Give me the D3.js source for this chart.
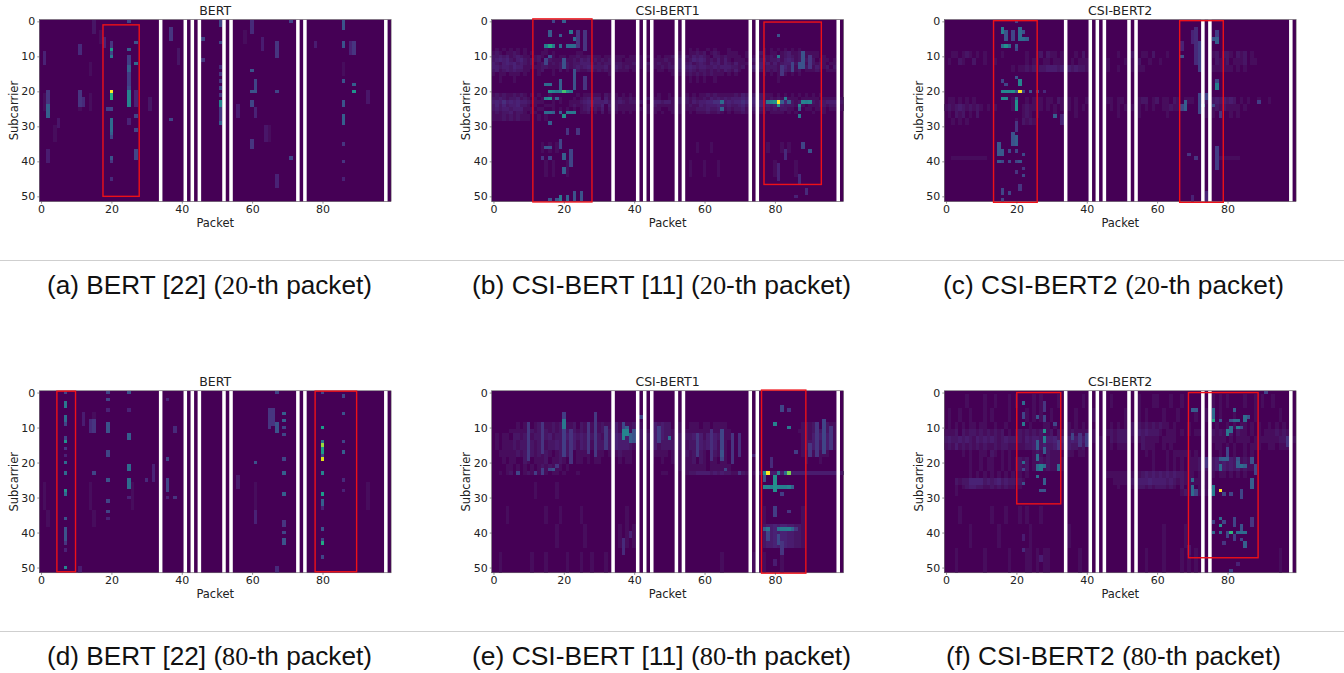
<!DOCTYPE html>
<html><head><meta charset="utf-8"><script src="https://cdn.jsdelivr.net/npm/d3@7"></script>
<style>html,body{margin:0;padding:0;background:#fff}svg{display:block}text{font-family:"DejaVu Sans",sans-serif}</style></head>
<body><svg id="c" width="1344" height="673"></svg>
<script>
// Packets lost in capture (white columns)
const missingPackets=[34,41,43,45,52,54,73,75,98];
const xTicks=[0,20,40,60,80];
const yTicks=[0,10,20,30,40,50];
const titles=["BERT","CSI-BERT1","CSI-BERT2","BERT","CSI-BERT1","CSI-BERT2"];
const captions=[["(a) BERT [22] (","20","-th packet)"],["(b) CSI-BERT [11] (","20","-th packet)"],["(c) CSI-BERT2 (","20","-th packet)"],["(d) BERT [22] (","80","-th packet)"],["(e) CSI-BERT [11] (","80","-th packet)"],["(f) CSI-BERT2 (","80","-th packet)"]];
// red highlight frames: [packet0, packet1, subcarrier0, subcarrier1]
const framesA=[[17.6,27.9,1,50]];
const framesB=[[11.2,28,-0.7,51.6],[76.9,93.2,0.2,46.6]];
const framesC=[[13.5,25.9,-0.2,51.7],[66.4,78.8,-0.2,51.7]];
const framesD=[[4.5,9.8,-0.4,51.2],[77.9,89.7,-0.4,51.2]];
const framesE=[[76.2,88.8,-0.7,51.6]];
const framesF=[[20.1,32.6,0,31.8],[68.9,88.7,0,47.2]];
// Background texture read per packet: [sub0, sub1, one digit per packet (tens of packets grouped)]
const layersA=[[21,25,"0100000000 0100100000 0000000000 0000000000 0000000000 0000000000 0000000000 0000000000 0000000000 0000000000"],
 [3,6,"0000000000 0000000100 0000000000 0000000000 0000000000 0000000010 0000000000 0000000000 0000000000 0000000000"],
 [12,15,"0000000000 0000100000 0000000000 0000000000 0000000000 0000000000 0000000000 0000000000 0000001000 0000000000"],
 [30,34,"0000100000 0000000000 0000000000 0000000000 0000000000 0000000000 0000010000 0000000000 0000000000 0000000000"]];
const layersB=[[8,8,"0101010101 0000010000 0000000000 0000000000 0000000000 0010101010 0101000100 0000010101 0101010100 0000000000"],
 [9,9,"1210112101 0100110100 0000110000 0000000000 0000000000 0011201121 2012100111 0011012101 1012311201 1110000000"],
 [10,10,"2232312321 1012102101 1011211211 1011011101 1010100101 1212121323 2102212111 1012121212 1212321201 1110100010"],
 [11,11,"2343421342 1212012111 1112132312 1212011011 1011011112 1123212434 3121313101 1102232312 2313431212 2201110100"],
 [12,12,"3213434232 1201211212 1212233321 2122022111 2011211211 2143423123 2132313213 1112123231 3123312211 2212101110"],
 [13,13,"3323324331 1111221112 1212323432 2231032121 1011121121 2243334323 3223233322 1202313122 2134221302 1132120210"],
 [14,14,"2312323221 1001200102 0101211221 2121021110 1001110110 1132323212 2121213213 1001212121 2123211201 1121011100"],
 [15,15,"1011011101 0001000100 0000000000 0001000000 0000000000 0111212121 2121110101 0001010101 0101010100 0000000000"],
 [16,17,"0010001000 0000000000 0000000000 0000000000 0000000000 0010101010 1001000000 0000010000 0100000000 0000000000"],
 [21,21,"1212112121 0101001000 0000101111 1021010101 0101010100 1010110101 1212111112 1321212111 0101010101 0101000000"],
 [22,22,"2232122312 1010100101 0001012323 3031212112 1201211100 1112121211 2132323233 3432322112 1212111011 1110111101"],
 [23,23,"3435343433 2111100101 0011123443 3342323212 2123033323 3112121323 3445543434 4544454334 2434321212 1212233322"],
 [24,24,"2424233422 1010011100 0012112332 2403121111 1101132111 1101012113 2333432322 3423334232 3232221110 1112212211"],
 [25,25,"2323323331 1101100101 0101012312 1302121111 1010111100 1111211122 2322321212 2312212121 2122110101 1011101101"],
 [26,26,"1212231221 0110010000 0001011201 0201010101 0100101010 0101101011 1211210101 1212121101 1110101000 0100100000"],
 [27,28,"1112121211 1001010000 0000000000 0000000000 0000000000 0000000000 0000000000 0000000000 0000000000 0000000000"],
 [35,37,"0000000000 0000101010 0000000000 0000000000 0000000000 0000100010 0010000000 0000000010 0010100000 0000000000"],
 [40,44,"0000000000 0000010100 0100000000 0000000000 0000000000 0000001000 1000100000 0000000000 1000001000 0000000000"]];
const layersC=[[9,10,"0011012101 0100001000 0001001202 1101000102 0000000001 0012101102 0001000000 0000001202 2102120100 0000000000"],
 [11,12,"0100210020 0100100000 0001011011 0111001011 1000001000 0101020010 0100000000 0000010211 2011120110 0000000000"],
 [13,14,"0000000000 0000000001 0112121223 3323032322 1000011001 0011011000 0000000000 0000011111 1101010000 0000000000"],
 [22,23,"0110101010 0000000001 0001011101 1021110100 1101011101 1010112201 2011021011 1001212323 2320101001 0010000000"],
 [24,25,"1212321212 1010100001 1012111101 0101010101 0101010101 0101010101 0011211000 0000111212 1111010000 0000000000"],
 [26,27,"0102120102 0000000000 0012101000 0100000100 0001000001 0000010000 0001000000 0000101010 0101000000 0000000000"],
 [28,29,"0010101000 0000000000 1021210000 0000000000 0000000000 0000000000 0000000000 0000000000 0000000000 0000000000"],
 [39,39,"0011111111 1100000000 0000000000 0000000000 0000000000 0000000000 0000000000 0000000011 1111000000 0000000000"]];
const layersD=[[6,9,"0000000000 0010010000 0000000000 0000000000 0000000000 0000000000 0000010000 0000000000 0000000000 0000000000"],
 [26,33,"0100000000 0000100000 0000001000 0000000000 0000000000 0000000000 0100000000 0000000000 0000000000 0001000000"],
 [34,38,"0010000000 0000010000 0000000000 0000000000 0000000000 0000000000 0000000000 0000000000 0000000000 0000000000"]];
const layersE=[[9,10,"0000000101 1012011212 1112021211 1211031211 2011023232 2021101110 1101111000 0000000000 0000000012 1230321100"],
 [11,11,"0000011111 1212121212 1212121212 1212131211 2121123232 2121111111 1111111100 0000000000 0000000112 1232321100"],
 [12,13,"0101102212 2122323122 2313232323 2122343433 2323233232 2122122323 1323221110 0000000000 0000000012 1343432100"],
 [14,16,"0101112122 2212312232 2223132213 2222243332 1213223122 2212212213 2313121010 0000000000 0000000012 2342331100"],
 [17,18,"0011111212 1212121012 1210111101 1101212111 0101011111 0111121212 1012111000 0000000000 0000000011 1121110000"],
 [19,20,"0001011002 1011120112 1010110101 1000101011 0001010010 0101011202 1011011000 0000000000 0000000001 0001000000"],
 [21,22,"0000110101 0101212111 0100000000 0000000000 0000000000 0011111111 1011111100 0000000000 0000000000 0000000000"],
 [23,23,"0010120101 2101210110 1000100000 0000000000 0000000011 0010012233 3323232211 1211113333 3333333333 3333333322"],
 [26,30,"0000000000 0010000010 0000000000 0000000000 0000000000 0000000000 0000000000 0000000000 0000000000 0000000000"],
 [33,37,"0000100000 0000010001 0000010000 0000000010 0000000000 0000000000 0000000000 0000000100 0000000010 0000000000"],
 [38,44,"0000000000 0000000010 0000001000 0000001010 1000000000 0000100000 0000000000 0000000233 4344332210 0000000000"],
 [46,51,"0010000000 0100010000 0100010010 0010000000 0000000000 0000000000 0000010000 0000100100 0010000000 0000000000"]];
const layersF=[[1,4,"0000001000 0100100010 1000010100 0010100001 0000000100 0000010001 1000100100 0000001010 1000010010 1001000000"],
 [5,8,"0100100100 0101000010 0001010100 1000000100 0010010000 0100010100 0010001000 0100100010 0010000010 0000010010"],
 [9,10,"0101010110 1100100100 0000100011 0100010101 0001010101 0102121212 1211010001 0001000100 1010110101 0010101000"],
 [11,12,"1112021221 2121212010 1212121211 2021012111 1011011212 2212132322 2101110101 0111012121 1202110101 0111212100"],
 [13,14,"2322323213 2323212322 2213233243 3424034313 1212120212 2211212111 1011110000 0000001111 0101111011 1111122211"],
 [15,16,"1213121212 1211212211 1112231232 2313032212 0101110101 1110102111 0010100000 0000000110 1010010111 0011011100"],
 [17,18,"0000010100 1102101010 0000012102 1110011011 0000000000 0000000101 0001011111 0101000010 1010010100 0000000000"],
 [19,22,"0000000100 1011001010 1212011212 1111000000 0000000000 0000000001 0001010101 1121212323 2323121100 0000000000"],
 [23,24,"0000000101 0101010101 0101000000 0000000000 0000011111 1111212323 2323232211 1011111011 0101010000 0000000000"],
 [25,26,"0002122444 4232342322 1210000000 0000000000 0000000011 1112233343 3332321211 1111110000 0000000000 0000000000"],
 [27,27,"0001012332 2112121211 0100000000 0000000000 0000000001 0011122121 2221210201 1010110000 0000000000 0000000000"],
 [28,29,"0001000000 0000000000 0000000000 0000000000 0000000000 0000000000 0000000121 2112110000 0000000000 0000000000"],
 [33,37,"0000100000 0001000100 0101000100 0000000000 0000000000 0000000000 0000000000 0000000000 0000000000 0000000000"],
 [38,44,"0000000100 0000010000 0000100000 0000010000 0000000000 0000100000 0010000010 0000000000 0000000000 0000000000"],
 [45,51,"0001000000 0100000010 0001101011 0000000010 0000000000 0000000100 0010000101 0100010000 0000000000 0000010000"]];
// Streaks: [packet, sub0, sub1, level]
const streaksA=[[20,6,7,.15],[20,8,8,.55],[20,9,9,.2],[20,10,10,.4],[20,20,20,1],[20,21,22,.62],[20,25,25,.2],[19,25,25,.18],[20,28,31,.35],[20,32,32,.3],[20,33,33,.2],[20,39,39,.25],[20,40,40,.15],[20,45,45,.12],[25,0,0,.2],[25,8,8,.3],[25,10,12,.18],[25,13,14,.3],[25,15,18,.18],[25,19,19,.22],[25,20,24,.45],[25,28,29,.1],[27,6,6,.25],[27,12,12,.35],[27,20,24,.1],[27,27,27,.2],[27,31,31,.2],[27,37,39,.2],[2,20,23,.15],[2,24,27,.3],[2,37,40,.08],[1,9,12,.1],[51,0,1,.2],[51,6,6,.2],[51,13,13,.12],[51,15,15,.15],[51,17,17,.15],[51,19,19,.2],[51,21,21,.15],[51,23,24,.45],[51,25,28,.15],[51,29,29,.3],[86,0,2,.25],[86,6,7,.25],[86,17,17,.25],[86,23,24,.25],[86,27,29,.3],[86,35,35,.15],[86,40,40,.15],[86,45,45,.1],[89,6,9,.15],[89,18,18,.3],[89,20,20,.5],[60,0,3,.12],[60,14,14,.25],[60,20,20,.25],[60,23,24,.2],[60,34,36,.15],[61,17,19,.2],[61,20,20,.25],[61,25,27,.1],[67,6,10,.15],[67,20,20,.2],[67,44,47,.1],[37,2,5,.15],[37,28,28,.2],[71,0,0,.2],[71,39,39,.2],[11,7,9,.12],[11,20,24,.15],[12,22,24,.12],[18,5,7,.1],[46,5,5,.2],[46,11,11,.15],[56,24,27,.08],[78,6,7,.08],[93,20,23,.06],[5,28,30,.06],[39,8,12,.05],[31,22,25,.05],[15,0,3,.05],[63,5,8,.08],[64,30,34,.06],[88,6,9,.1]];
const streaksB=[[16,7,7,.6],[15,7,7,.42],[17,7,7,.4],[19,7,7,.35],[21,7,7,.35],[22,7,7,.35],[23,7,7,.35],[16,20,20,.5],[17,20,20,.45],[18,20,20,.4],[19,20,20,.45],[20,20,20,.7],[21,20,20,.5],[22,20,20,.4],[15,22,22,.45],[16,22,22,.5],[18,22,22,.3],[15,18,18,.35],[16,18,18,.35],[19,17,19,.3],[15,26,26,.35],[16,26,26,.35],[17,26,26,.3],[19,26,26,.3],[20,27,27,.5],[21,26,26,.4],[22,26,26,.4],[23,26,26,.4],[81,23,23,1],[80,23,23,.5],[79,23,23,.45],[78,23,23,.4],[81,24,24,.5],[82,23,23,.3],[83,22,22,.4],[84,23,23,.3],[87,24,24,.45],[88,23,23,.45],[89,23,23,.42],[90,23,23,.45],[87,25,25,.3],[87,27,27,.4],[81,10,10,.4],[81,4,4,.25],[65,23,23,.35],[65,25,25,.3],[22,3,3,.4],[23,5,5,.35],[19,4,4,.3],[16,3,4,.28],[23,14,19,.25],[20,0,0,.3],[17,0,0,.2],[16,29,29,.3],[19,50,51,.4],[21,50,51,.3],[23,49,51,.25],[25,49,51,.25],[16,51,51,.25],[18,51,51,.25],[22,37,41,.2],[20,38,39,.3],[20,42,43,.3],[19,34,36,.2],[15,36,36,.25],[16,36,36,.25],[14,39,39,.15],[16,39,39,.2],[26,3,8,.15],[24,3,7,.15],[26,16,19,.15],[20,11,13,.25],[15,11,12,.2],[16,10,10,.25],[88,9,13,.25],[90,10,13,.15],[85,12,14,.2],[87,12,13,.25],[82,13,15,.15],[88,35,36,.2],[90,37,37,.25],[81,41,45,.1],[83,37,39,.12],[87,44,46,.12],[86,50,50,.1],[89,48,49,.12],[24,31,32,.15],[21,31,32,.15]];
const streaksC=[[21,20,20,1],[20,20,20,.25],[19,20,20,.5],[16,20,20,.45],[17,20,20,.45],[18,20,20,.45],[22,20,20,.2],[24,20,20,.25],[26,20,20,.2],[28,20,20,.12],[16,22,22,.45],[17,22,22,.45],[20,23,25,.5],[20,22,22,.3],[21,17,18,.45],[20,16,16,.25],[17,18,18,.2],[16,17,17,.2],[16,7,7,.35],[17,7,7,.5],[18,7,7,.35],[20,7,7,.25],[20,8,8,.2],[16,2,3,.42],[17,3,5,.25],[19,3,5,.2],[21,2,5,.35],[22,5,5,.35],[23,5,5,.3],[22,3,3,.25],[20,0,0,.2],[20,33,35,.3],[19,32,35,.25],[20,29,31,.15],[15,35,38,.28],[16,37,38,.28],[18,37,37,.2],[20,37,37,.2],[22,38,38,.22],[15,40,40,.28],[16,40,40,.22],[18,40,40,.2],[20,40,40,.2],[21,40,40,.25],[22,44,44,.2],[20,43,43,.15],[22,42,42,.15],[16,48,49,.2],[18,49,49,.2],[16,51,51,.2],[21,47,48,.15],[77,5,6,.3],[77,3,4,.18],[76,5,5,.25],[71,2,12,.12],[72,6,14,.18],[77,18,19,.42],[77,17,17,.2],[70,3,6,.1],[73,24,24,.45],[72,21,26,.2],[76,24,24,.2],[68,23,25,.3],[67,24,25,.2],[67,10,10,.25],[67,6,8,.1],[77,36,42,.18],[71,39,39,.15],[69,38,38,.15],[74,21,22,.2],[31,27,27,.3],[33,27,29,.1],[89,23,23,.18],[78,26,27,.15],[70,50,51,.1],[74,49,51,.1]];
const streaksD=[[7,0,0,.2],[7,3,4,.4],[7,7,8,.35],[7,9,9,.2],[7,13,13,.2],[7,14,14,.5],[7,16,16,.15],[7,18,18,.1],[7,20,20,.35],[7,23,23,.35],[7,28,28,.5],[7,29,29,.35],[7,36,36,.25],[7,39,42,.25],[7,43,43,.15],[7,45,45,.1],[7,50,50,.45],[80,0,0,.2],[80,10,10,.55],[80,14,14,.4],[80,15,15,.85],[80,16,17,.55],[80,18,18,.2],[80,19,19,.95],[80,23,23,.45],[80,29,29,.55],[80,31,32,.3],[80,33,33,.1],[80,39,39,.25],[80,42,42,.2],[80,43,43,.6],[80,47,47,.2],[25,0,0,.25],[25,5,5,.1],[25,12,13,.3],[25,21,22,.35],[25,25,27,.35],[25,30,30,.1],[19,0,0,.2],[19,2,2,.2],[19,5,5,.1],[19,9,11,.25],[19,17,18,.2],[19,25,25,.25],[19,31,31,.2],[19,34,34,.2],[19,36,36,.1],[15,8,11,.15],[15,23,23,.2],[14,8,11,.12],[69,6,6,.3],[69,8,8,.3],[69,10,10,.2],[69,12,12,.2],[69,19,19,.2],[69,23,23,.3],[69,29,29,.3],[69,37,38,.15],[69,40,40,.2],[69,42,43,.25],[65,5,10,.15],[66,5,9,.15],[67,9,11,.25],[67,0,0,.2],[86,1,1,.2],[86,6,6,.25],[86,14,14,.2],[86,17,17,.3],[86,25,25,.12],[86,28,28,.1],[36,2,2,.1],[36,19,19,.2],[36,25,28,.2],[36,30,30,.1],[38,30,30,.15],[38,10,11,.12],[61,20,20,.25],[61,34,37,.1],[30,25,25,.12],[32,21,25,.1],[56,24,27,.07],[12,6,9,.08],[67,50,51,.12],[11,50,51,.08]];
const streaksE=[[78,23,23,1],[77,23,23,.5],[84,23,23,.8],[83,23,23,.35],[81,23,23,.4],[77,27,27,.45],[78,27,27,.45],[79,27,27,.42],[81,27,27,.45],[82,27,27,.42],[83,27,27,.42],[84,27,27,.45],[85,27,27,.3],[80,24,28,.5],[77,24,25,.25],[78,39,39,.4],[77,39,39,.3],[81,39,39,.38],[82,39,39,.4],[83,39,39,.4],[84,39,39,.42],[85,39,39,.32],[86,39,39,.15],[78,40,42,.2],[81,41,43,.22],[37,11,13,.45],[38,11,12,.45],[38,10,10,.3],[39,12,14,.3],[37,9,10,.22],[40,11,14,.25],[20,8,10,.4],[50,13,13,.35],[80,9,9,.45],[84,10,10,.4],[82,4,5,.2],[84,5,5,.15],[17,22,22,.25],[16,22,22,.2],[20,6,18,.18],[10,9,19,.16],[14,9,17,.15],[27,9,17,.15],[29,6,18,.16],[32,10,16,.16],[22,11,20,.14],[58,12,18,.16],[62,11,19,.13],[65,11,19,.2],[65,17,18,.25],[68,12,20,.15],[70,12,18,.13],[47,10,14,.18],[42,7,7,.2],[66,22,22,.2],[70,23,23,.15],[74,18,18,.1],[92,9,18,.15],[94,8,17,.2],[96,10,16,.15],[90,15,18,.15],[86,17,17,.18],[82,29,29,.18],[80,33,35,.18],[84,34,34,.15],[79,19,21,.12],[37,42,46,.12],[39,40,41,.1],[82,43,46,.15],[80,48,49,.08],[7,23,23,.2],[12,23,23,.18],[14,22,23,.18],[18,21,21,.15]];
const streaksF=[[78,28,28,1],[76,8,8,.6],[81,40,40,.65],[78,38,38,.5],[76,40,40,.35],[78,40,40,.35],[83,40,40,.35],[84,40,40,.35],[85,40,40,.35],[78,36,36,.35],[76,37,37,.2],[82,36,38,.2],[84,38,39,.25],[85,43,44,.3],[76,5,7,.35],[70,5,5,.3],[71,5,5,.28],[81,8,8,.25],[82,8,8,.35],[83,8,8,.35],[85,7,8,.35],[86,7,7,.25],[82,5,5,.3],[80,11,12,.4],[81,10,11,.35],[83,10,10,.4],[84,10,10,.25],[78,8,8,.25],[76,27,29,.42],[75,28,29,.2],[70,25,25,.35],[70,27,29,.35],[71,28,29,.2],[79,29,29,.2],[81,29,29,.2],[84,28,30,.2],[87,25,27,.3],[78,19,19,.28],[79,19,19,.3],[80,19,19,.3],[78,21,22,.35],[83,20,21,.3],[84,21,21,.35],[85,21,21,.3],[87,19,20,.25],[83,19,19,.25],[88,21,23,.2],[80,16,18,.2],[28,11,11,.5],[28,13,14,.42],[26,14,16,.3],[26,18,19,.35],[26,21,22,.35],[27,21,22,.42],[28,21,21,.35],[32,21,22,.35],[28,16,17,.3],[22,9,9,.4],[22,3,3,.35],[22,6,7,.2],[26,7,7,.25],[28,7,8,.2],[28,3,5,.15],[22,20,20,.35],[22,22,22,.2],[26,24,24,.35],[28,25,26,.3],[22,26,26,.25],[27,28,28,.25],[28,28,28,.25],[31,9,9,.2],[32,14,16,.15],[38,12,15,.15],[40,12,15,.18],[36,12,13,.2],[91,0,0,.2],[97,13,15,.15],[81,51,51,.2],[83,49,49,.1],[27,47,48,.08],[22,45,45,.12],[22,41,42,.08],[69,44,46,.06],[79,37,37,.2],[80,40,41,.2],[82,41,42,.18],[84,42,42,.2],[79,43,43,.15],[87,36,38,.15],[74,19,21,.15]];
const panels=[
 {layers:layersA,streaks:streaksA,frames:framesA},{layers:layersB,streaks:streaksB,frames:framesB},{layers:layersC,streaks:streaksC,frames:framesC},
 {layers:layersD,streaks:streaksD,frames:framesD},{layers:layersE,streaks:streaksE,frames:framesE},{layers:layersF,streaks:streaksF,frames:framesF}];
const layerUnit=0.025;

// layout
const lefts=[39.3,491.7,944.3], imgW=351.8, imgH=182, tops=[19.6,390.8];
const captionSpan=[[47,372],[472,851],[943,1284],[47,372],[472,851],[946,1281]];
const captionY=[294,665], ruleY=[260.5,631.5];
const svg=d3.select("#c");
const defs=svg.append("defs");
defs.append("filter").attr("id","soft").attr("x",0).attr("y",0).attr("width",1).attr("height",1)
 .append("feGaussianBlur").attr("stdDeviation",0.65);

ruleY.forEach(y=>svg.append("line").attr("x1",0).attr("x2",1344).attr("y1",y).attr("y2",y).attr("stroke","#cfcfcf").attr("stroke-width",1));

const packets=d3.range(100), subs=d3.range(52);
panels.forEach((p,i)=>{
  const L=lefts[i%3],T=tops[i<3?0:1];
  const x=d3.scaleLinear().domain([-0.5,99.5]).range([L,L+imgW]);
  const y=d3.scaleLinear().domain([-0.5,51.5]).range([T,T+imgH]);
  const color=d3.scaleSequential(d3.interpolateViridis).domain([0,1]);
  const grid=subs.map(()=>packets.map(()=>0));
  p.layers.forEach(([a,b,str])=>{const digits=str.replace(/ /g,"");
    for(let s=a;s<=b;s++)packets.forEach(q=>{grid[s][q]+=(+digits[q])*layerUnit;});});
  p.streaks.forEach(([q,a,b,v])=>{for(let s=a;s<=b;s++)grid[s][q]=Math.max(grid[s][q],v);});
  const cells=[];
  subs.forEach(s=>packets.forEach(q=>{if(grid[s][q]>0)cells.push({q,s,v:grid[s][q]});}));
  const g=svg.append("g");
  const img=g.append("g").attr("filter","url(#soft)");
  img.append("rect").attr("x",L).attr("y",T).attr("width",imgW).attr("height",imgH).attr("fill",color(0));
  const w=x(1)-x(0),h=y(1)-y(0);
  img.selectAll("rect.c").data(cells).join("rect").attr("class","c").attr("shape-rendering","crispEdges")
    .attr("x",d=>x(d.q-0.5)).attr("y",d=>y(d.s-0.5)).attr("width",w).attr("height",h).attr("fill",d=>color(d.v));
  img.selectAll("rect.m").data(missingPackets).join("rect").attr("class","m")
    .attr("x",d=>x(d-0.5)).attr("y",T).attr("width",w).attr("height",imgH).attr("fill","#fff");
  g.append("rect").attr("x",L).attr("y",T).attr("width",imgW).attr("height",imgH).attr("fill","none").attr("stroke","#555").attr("stroke-width",.5);
  g.selectAll("rect.f").data(p.frames).join("rect").attr("class","f")
    .attr("x",d=>x(d[0])).attr("y",d=>y(d[2])).attr("width",d=>x(d[1])-x(d[0])).attr("height",d=>y(d[3])-y(d[2]))
    .attr("fill","none").attr("stroke","#ee1018").attr("stroke-width",1.4);
  const ax=g.append("g").attr("transform",`translate(0,${T+imgH})`).call(d3.axisBottom(x).tickValues(xTicks).tickSize(2).tickPadding(1.5));
  const ay=g.append("g").attr("transform",`translate(${L},0)`).call(d3.axisLeft(y).tickValues(yTicks).tickSize(2).tickPadding(2));
  [ax,ay].forEach(a=>{a.select(".domain").remove();a.selectAll("line").attr("stroke","#444").attr("stroke-width",.6);
    a.selectAll("text").attr("fill","#222").style("font-size","11px").style("font-family",'"DejaVu Sans"');});
  const cx=L+imgW/2;
  g.append("text").attr("x",cx).attr("y",T-4.6).attr("text-anchor","middle").attr("fill","#222").style("font-size","12.5px").text(titles[i]);
  g.append("text").attr("x",cx).attr("y",T+imgH+25).attr("text-anchor","middle").attr("fill","#222").style("font-size","11.5px").text("Packet");
  g.append("text").attr("transform",`translate(${L-21.5},${T+imgH/2}) rotate(-90)`).attr("text-anchor","middle").attr("fill","#222").style("font-size","11.5px").text("Subcarrier");
  const c=captions[i],[c0,c1]=captionSpan[i];
  const t=svg.append("text").attr("x",c0).attr("y",captionY[i<3?0:1]).attr("textLength",c1-c0).attr("lengthAdjust","spacingAndGlyphs")
    .attr("fill","#111").style("font-size","26px").style("font-family",'"Liberation Sans"');
  t.append("tspan").text(c[0]);
  t.append("tspan").style("font-family",'"Liberation Serif"').text(c[1]);
  t.append("tspan").text(c[2]);
});
</script></body></html>
